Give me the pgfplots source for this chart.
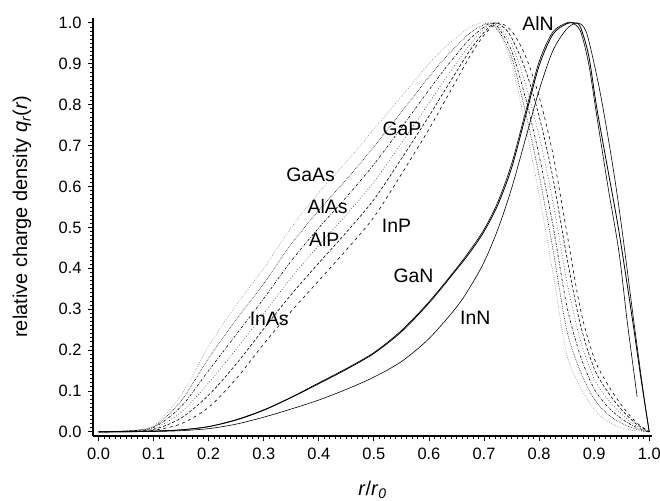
\documentclass[border=0pt]{standalone}
\usepackage{fontspec}
\setmainfont{Liberation Sans}
\usepackage{pgfplots}
\pgfplotsset{compat=1.18}
\usepackage{pgfplotstable}

\pgfplotstableread{
x y
0 0
0.05 0.003
0.1 0.015
0.15 0.09
0.2 0.21
0.25 0.31
0.3 0.40
0.35 0.50
0.4 0.585
0.45 0.66
0.5 0.74
0.55 0.82
0.6 0.90
0.625 0.935
0.65 0.965
0.675 0.99
0.7 1.0
0.725 0.98
0.75 0.90
0.775 0.75
0.8 0.58
0.825 0.39
0.85 0.19
0.875 0.11
0.9 0.055
0.925 0.025
0.95 0.01
0.975 0.003
1.0 0
}\GaAs

\pgfplotstableread{
x y
0 0
0.05 0.0026
0.1 0.013
0.15 0.076
0.2 0.18
0.25 0.274
0.3 0.363
0.35 0.459
0.4 0.542
0.45 0.617
0.5 0.697
0.55 0.782
0.6 0.868
0.625 0.908
0.65 0.944
0.675 0.976
0.7 0.996
0.71 1.0
0.725 0.984
0.75 0.916
0.775 0.784
0.8 0.628
0.825 0.448
0.85 0.25
0.875 0.148
0.9 0.08
0.925 0.043
0.95 0.021
0.975 0.0074
1.0 0
}\AlAs

\pgfplotstableread{
x y
0 0
0.05 0.0022
0.1 0.011
0.15 0.062
0.2 0.15
0.25 0.238
0.3 0.326
0.35 0.418
0.4 0.499
0.45 0.574
0.5 0.654
0.55 0.744
0.6 0.836
0.625 0.881
0.65 0.923
0.675 0.962
0.7 0.99
0.712 1.0
0.725 0.99
0.75 0.932
0.775 0.818
0.8 0.676
0.825 0.506
0.85 0.31
0.875 0.186
0.9 0.105
0.925 0.061
0.95 0.032
0.975 0.012
1.0 0
}\AlP

\pgfplotstableread{
x y
0 0
0.05 0.0018
0.1 0.008
0.15 0.048
0.2 0.12
0.25 0.202
0.3 0.289
0.35 0.377
0.4 0.456
0.45 0.531
0.5 0.611
0.55 0.706
0.6 0.804
0.625 0.854
0.65 0.902
0.675 0.948
0.7 0.984
0.715 1.0
0.725 0.995
0.75 0.948
0.775 0.852
0.8 0.724
0.825 0.564
0.85 0.37
0.875 0.224
0.9 0.13
0.925 0.079
0.95 0.043
0.975 0.016
1.0 0
}\GaP

\pgfplotstableread{
x y
0 0
0.05 0.0014
0.1 0.006
0.15 0.034
0.2 0.09
0.25 0.166
0.3 0.252
0.35 0.336
0.4 0.413
0.45 0.488
0.5 0.568
0.55 0.668
0.6 0.772
0.625 0.827
0.65 0.881
0.675 0.934
0.7 0.977
0.72 1.0
0.735 0.99
0.75 0.964
0.775 0.886
0.8 0.772
0.825 0.622
0.85 0.43
0.875 0.262
0.9 0.155
0.925 0.097
0.95 0.054
0.975 0.021
1.0 0
}\InAs

\pgfplotstableread{
x y
0 0
0.05 0.001
0.1 0.004
0.15 0.02
0.2 0.06
0.25 0.13
0.3 0.215
0.35 0.295
0.4 0.37
0.45 0.445
0.5 0.525
0.55 0.63
0.6 0.74
0.625 0.80
0.65 0.86
0.675 0.92
0.7 0.97
0.725 1.0
0.75 0.98
0.775 0.92
0.8 0.82
0.825 0.68
0.85 0.49
0.875 0.30
0.9 0.18
0.925 0.115
0.95 0.065
0.975 0.025
1.0 0
}\InP

\pgfplotstableread{
x y
0 0
0.05 0.0005
0.1 0.002
0.15 0.005
0.2 0.013
0.25 0.029
0.3 0.053
0.35 0.084
0.4 0.118
0.45 0.153
0.5 0.192
0.55 0.245
0.6 0.315
0.65 0.397
0.675 0.44
0.7 0.49
0.725 0.555
0.75 0.645
0.775 0.77
0.8 0.895
0.825 0.972
0.85 0.998
0.865 1.0
0.875 0.99
0.89 0.92
0.905 0.79
0.925 0.64
0.945 0.49
0.97 0.27
0.985 0.13
1.0 0
}\GaN

\pgfplotstableread{
x y
0 0
0.05 0.0005
0.1 0.002
0.15 0.005
0.2 0.013
0.25 0.03
0.3 0.054
0.35 0.085
0.4 0.12
0.45 0.155
0.5 0.194
0.55 0.248
0.6 0.318
0.65 0.40
0.675 0.445
0.7 0.495
0.725 0.562
0.75 0.655
0.775 0.78
0.8 0.905
0.825 0.978
0.85 1.0
0.86 1.0
0.875 0.98
0.89 0.90
0.905 0.77
0.925 0.60
0.945 0.44
0.96 0.27
0.978 0.086
}\AlN

\pgfplotstableread{
x y
0 0
0.05 0.0003
0.1 0.001
0.15 0.003
0.2 0.008
0.25 0.019
0.3 0.036
0.35 0.056
0.4 0.078
0.45 0.104
0.5 0.134
0.55 0.172
0.6 0.228
0.65 0.305
0.675 0.355
0.7 0.415
0.725 0.495
0.75 0.595
0.775 0.715
0.8 0.835
0.825 0.932
0.85 0.985
0.87 1.0
0.885 0.98
0.9 0.90
0.915 0.80
0.935 0.64
0.95 0.50
0.972 0.27
0.99 0.09
1.0 0
}\InN

\begin{document}
\begin{tikzpicture}
\begin{axis}[
  scale only axis,
  width=559bp, height=418bp,
  at={(0,0)}, anchor=south west,
  xmin=-0.01, xmax=1.005, ymin=-0.01, ymax=1.012,
  axis lines=left,
  axis line style={-, line width=1.4bp},
  tick align=outside,
  major tick length=5bp,
  minor tick length=3bp,
  every tick/.style={black, line width=0.9bp},
  xtick={0,0.1,...,1.0},
  ytick={0,0.1,...,1.0},
  minor tick num=9,
  /pgf/number format/.cd, fixed, fixed zerofill, precision=1, assume math mode=true,
  /pgfplots/.cd,
  ticklabel style={font=\fontsize{16.5}{20}\selectfont},
  xticklabel style={yshift=-4bp},
  yticklabel style={xshift=-3bp},
  xlabel={\textit{r}/\textit{r}\textsubscript{\textit{0}}},
  ylabel={relative charge density \textit{q}\textsubscript{\textit{r}}(\textit{r})},
  label style={font=\fontsize{20}{24}\selectfont},
  xlabel style={at={(axis description cs:0.5,-0.128)}, anchor=center},
  ylabel style={at={(axis description cs:-0.127,0.525)}, anchor=center},
  clip=false,
]
\addplot[gray, line width=0.6bp, dash pattern=on 0.6bp off 1.6bp, smooth] table {\GaAs};
\addplot[black, line width=0.6bp, dash pattern=on 0.6bp off 1.1bp, smooth] table {\AlAs};
\addplot[black, line width=0.6bp, dash pattern=on 2.5bp off 1.5bp on 0.6bp off 1.5bp, smooth] table {\AlP};
\addplot[black!70, line width=0.6bp, dash pattern=on 0.8bp off 2bp, smooth] table {\GaP};
\addplot[black, line width=0.6bp, dash pattern=on 3bp off 2bp, smooth] table {\InAs};
\addplot[black, line width=0.6bp, dash pattern=on 3bp off 3.5bp, smooth] table {\InP};
\addplot[black, line width=0.8bp, smooth] table {\GaN};
\addplot[black, line width=0.6bp, smooth] table {\AlN};
\addplot[black, line width=0.6bp, smooth] table {\InN};

\begin{scope}[every node/.style={font=\fontsize{19.5}{23}\selectfont, inner sep=0pt}]
\node at (axis cs:0.385,0.628) {GaAs};
\node at (axis cs:0.416,0.552) {AlAs};
\node at (axis cs:0.41,0.471) {AlP};
\node at (axis cs:0.31,0.276) {InAs};
\node at (axis cs:0.541,0.504) {InP};
\node at (axis cs:0.551,0.740) {GaP};
\node at (axis cs:0.572,0.381) {GaN};
\node at (axis cs:0.684,0.278) {InN};
\node at (axis cs:0.798,0.998) {AlN};
\end{scope}
\end{axis}
\pgfresetboundingbox
\path (-93bp,-65bp) rectangle (567bp,436bp);
\end{tikzpicture}
\end{document}
